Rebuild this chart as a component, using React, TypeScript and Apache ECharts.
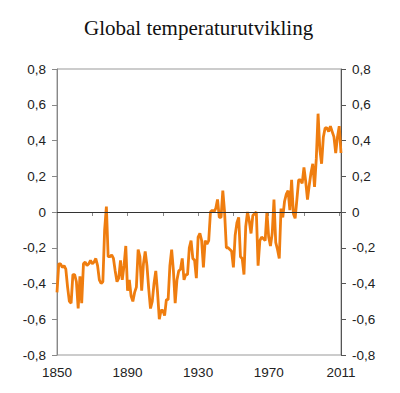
import React, { useEffect, useRef } from "react";
import * as echarts from "echarts";

const titleText = "Global temperaturutvikling";

const firstYear = 1850;
const lastYear = 2011;
const years: string[] = [];
for (let y = firstYear; y <= lastYear; y++) years.push(String(y));

// Temperature anomaly, 1850-2011
const temps1850s = [-0.45, -0.29, -0.29, -0.31, -0.30, -0.32, -0.42, -0.50, -0.51, -0.35];
const temps1860s = [-0.35, -0.39, -0.54, -0.36, -0.51, -0.29, -0.28, -0.30, -0.29, -0.27];
const temps1870s = [-0.29, -0.28, -0.26, -0.30, -0.38, -0.40, -0.39, -0.10, 0.03, -0.25];
const temps1880s = [-0.25, -0.24, -0.26, -0.33, -0.39, -0.37, -0.27, -0.38, -0.30, -0.19];
const temps1890s = [-0.44, -0.38, -0.47, -0.50, -0.45, -0.42, -0.21, -0.25, -0.44, -0.29];
const temps1900s = [-0.22, -0.30, -0.43, -0.54, -0.50, -0.40, -0.33, -0.45, -0.60, -0.55];
const temps1910s = [-0.55, -0.58, -0.49, -0.49, -0.30, -0.21, -0.33, -0.51, -0.38, -0.33];
const temps1920s = [-0.32, -0.26, -0.38, -0.35, -0.35, -0.20, -0.16, -0.26, -0.27, -0.37];
const temps1930s = [-0.14, -0.12, -0.16, -0.31, -0.16, -0.18, -0.16, 0.00, 0.01, 0.00];
const temps1940s = [0.02, 0.07, -0.03, -0.03, 0.12, 0.00, -0.20, -0.20, -0.21, -0.22];
const temps1950s = [-0.31, -0.13, -0.06, -0.03, -0.25, -0.26, -0.35, -0.08, 0.00, -0.05];
const temps1960s = [-0.12, -0.02, -0.01, 0.00, -0.30, -0.16, -0.14, -0.15, -0.16, 0.00];
const temps1970s = [-0.14, -0.19, -0.12, 0.07, -0.17, -0.21, -0.26, 0.02, -0.03, 0.06];
const temps1980s = [0.10, 0.12, 0.01, 0.18, -0.01, -0.035, 0.07, 0.18, 0.18, 0.16];
const temps1990s = [0.25, 0.17, 0.07, 0.15, 0.22, 0.27, 0.14, 0.30, 0.55, 0.35];
const temps2000s = [0.27, 0.42, 0.47, 0.47, 0.45, 0.48, 0.45, 0.42, 0.33, 0.42];
const temps2010s = [0.48, 0.33];

const temps = [
  ...temps1850s, ...temps1860s, ...temps1870s, ...temps1880s,
  ...temps1890s, ...temps1900s, ...temps1910s, ...temps1920s,
  ...temps1930s, ...temps1940s, ...temps1950s, ...temps1960s,
  ...temps1970s, ...temps1980s, ...temps1990s, ...temps2000s, ...temps2010s,
];

const xLabelYears = ["1850", "1890", "1930", "1970", "2011"];
const xTickStepYears = 20;
const yMin = -0.8;
const yMax = 0.8;
const yStep = 0.2;

const fmtY = (v: number) => (Math.abs(v) < 1e-9 ? "0" : v.toFixed(1).replace(".", ","));

export default function App() {
  const ref = useRef<HTMLDivElement>(null);
  useEffect(() => {
    if (!ref.current) return;
    const chart = echarts.init(ref.current, undefined, { renderer: "svg" });
    const sans = "Liberation Sans, Arial, sans-serif";
    const yAxisBase = {
      type: "value" as const,
      min: yMin,
      max: yMax,
      interval: yStep,
      splitLine: { show: false },
      axisTick: { show: true, length: 5 },
      axisLabel: { formatter: fmtY, fontFamily: sans, fontSize: 13.5, color: "#222", margin: 11 },
    };
    chart.setOption({
      animation: false,
      backgroundColor: "#fff",
      title: {
        text: titleText,
        left: 79,
        top: 12,
        textStyle: { fontFamily: "Liberation Serif, Times New Roman, serif", fontSize: 21, fontWeight: "normal", color: "#111" },
      },
      grid: { left: 57, right: 59, top: 69, bottom: 38, show: true, borderColor: "#999", borderWidth: 1 },
      xAxis: {
        type: "category",
        data: years,
        boundaryGap: false,
        axisLine: { lineStyle: { color: "#888", width: 1 } },
        axisTick: {
          show: true,
          length: 4,
          interval: (i: number) => i % xTickStepYears === 0,
          lineStyle: { color: "#888" },
        },
        axisLabel: {
          interval: (_i: number, v: string) => xLabelYears.includes(v),
          fontFamily: sans,
          fontSize: 13.5,
          color: "#222",
          margin: 10,
        },
        splitLine: { show: false },
      },
      yAxis: [
        {
          ...yAxisBase,
          position: "left",
          axisLine: { show: true, lineStyle: { color: "#888" } },
          axisTick: { show: true, length: 5, lineStyle: { color: "#888" } },
        },
        {
          ...yAxisBase,
          position: "right",
          axisLine: { show: true, lineStyle: { color: "#555" } },
          axisTick: { show: true, length: 5, lineStyle: { color: "#555" } },
        },
      ],
      series: [
        {
          type: "line",
          data: [],
          z: 1,
          silent: true,
          markLine: {
            silent: true,
            symbol: "none",
            label: { show: false },
            lineStyle: { color: "#333", width: 1, type: "solid" },
            data: [{ yAxis: 0 }],
          },
        },
        {
          type: "line",
          data: temps,
          z: 3,
          showSymbol: false,
          lineStyle: { color: "#EF7D0F", width: 2.8 },
          itemStyle: { color: "#EF7D0F" },
        },
      ],
    });
    return () => chart.dispose();
  }, []);
  return <div ref={ref} style={{ position: "fixed", left: 0, top: 0, width: 400, height: 393 }} />;
}
